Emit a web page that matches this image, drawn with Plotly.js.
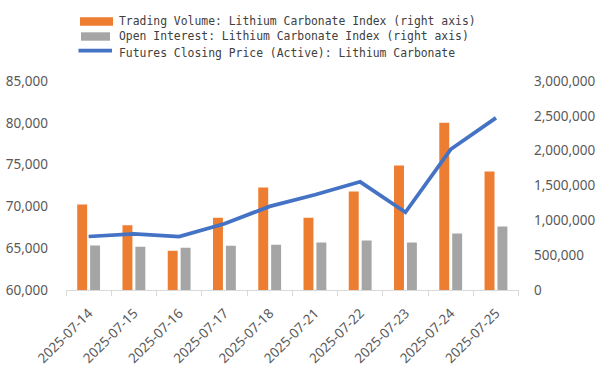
<!DOCTYPE html>
<html>
<head>
<meta charset="utf-8">
<script src="https://cdn.plot.ly/plotly-3.0.1.min.js"></script>
<style>html,body{margin:0;padding:0;background:#fff;}#chart{width:602px;height:371px;}</style>
</head>
<body>
<div id="chart"></div>
<script>
const dates = ["2025-07-14","2025-07-15","2025-07-16","2025-07-17","2025-07-18","2025-07-21","2025-07-22","2025-07-23","2025-07-24","2025-07-25"];
const tradingVolume = [1226000, 928000, 563000, 1038000, 1471000, 1038000, 1413000, 1788000, 2399000, 1702000];
const openInterest = [639000, 620000, 606000, 635000, 649000, 683000, 711000, 683000, 812000, 913000];
const closingPrice = [66400, 66700, 66400, 67930, 70000, 71400, 72940, 69300, 76830, 80590];

const seriesNames = [
  "Trading Volume: Lithium Carbonate Index (right axis)",
  "Open Interest: Lithium Carbonate Index (right axis)",
  "Futures Closing Price (Active): Lithium Carbonate"
];
const seriesColors = ["#ED7D31", "#A5A5A5", "#4472C4"];

const tickFont = {family: "Noto Sans, sans-serif", size: 13.5, color: "#595959"};
const legendFont = {family: "DejaVu Sans Mono, monospace", size: 11.4, color: "#404040"};

// plot geometry (pixels) used to place the hand-made legend in paper coordinates
const M = {l: 66, r: 72, t: 81, b: 81};
const PW = 602 - M.l - M.r, PH = 371 - M.t - M.b;
const px = v => (v - M.l) / PW;
const py = v => (371 - M.b - v) / PH;

const data = [
  {type: "bar", x: dates, y: tradingVolume, name: seriesNames[0], marker: {color: seriesColors[0]}, yaxis: "y"},
  {type: "bar", x: dates, y: openInterest, name: seriesNames[1], marker: {color: seriesColors[1]}, yaxis: "y"},
  {type: "scatter", mode: "lines", x: dates, y: closingPrice, name: seriesNames[2], line: {color: seriesColors[2], width: 3.75}, yaxis: "y2"}
];

const rowY = [20.7, 36.4, 53];
const shapes = [
  {type: "rect", xref: "paper", yref: "paper", x0: px(80), x1: px(113), y0: py(17.3), y1: py(25.7), fillcolor: seriesColors[0], line: {width: 0}},
  {type: "rect", xref: "paper", yref: "paper", x0: px(81), x1: px(110), y0: py(32.3), y1: py(40.7), fillcolor: seriesColors[1], line: {width: 0}},
  {type: "line", xref: "paper", yref: "paper", x0: px(78.5), x1: px(112), y0: py(50.7), y1: py(50.7), line: {color: seriesColors[2], width: 3.75}}
];
const annotations = seriesNames.map((n, i) => ({
  xref: "paper", yref: "paper", x: px(117.5), y: py(rowY[i]), xanchor: "left", yanchor: "middle",
  text: n, showarrow: false, font: legendFont, borderpad: 0
}));

const layout = {
  width: 602, height: 371,
  margin: M,
  paper_bgcolor: "#fff", plot_bgcolor: "#fff",
  barmode: "group", bargap: 0.43, bargroupgap: 0.23,
  showlegend: false,
  shapes: shapes, annotations: annotations,
  xaxis: {type: "category", domain: [0, 452.6/PW], showgrid: false, showline: true, linecolor: "#d9d9d9", linewidth: 1,
          ticks: "outside", tickson: "boundaries", ticklen: 5, tickcolor: "#d9d9d9", tickangle: -45,
          ticklabelstandoff: 9, tickfont: tickFont, zeroline: false},
  yaxis: {range: [0, 3000000], dtick: 500000, tickformat: ",d", side: "right", anchor: "free", position: 1,
          showgrid: false, zeroline: false, showline: false, ticks: "", ticklabelstandoff: 3, tickfont: tickFont},
  yaxis2: {range: [60000, 85000], dtick: 5000, tickformat: ",d", overlaying: "y", side: "left", anchor: "x",
           showgrid: false, zeroline: false, showline: false, ticks: "", ticklabelstandoff: 17, tickfont: tickFont}
};

Plotly.newPlot("chart", data, layout, {displayModeBar: false, staticPlot: true});
</script>
</body>
</html>
